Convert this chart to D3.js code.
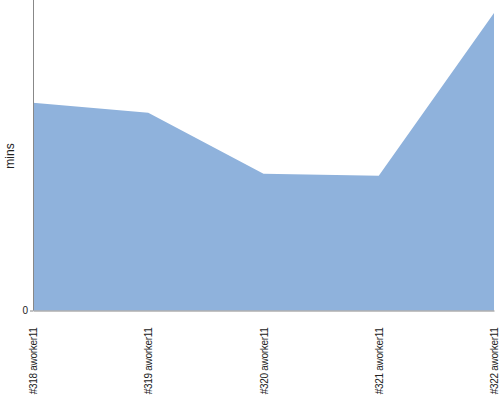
<!DOCTYPE html>
<html lang="en">
<head>
<meta charset="UTF-8">
<title>Build times</title>
<style>
body {
    margin: 0;
    background-color: #fff;
    font-family: "Liberation Sans", sans-serif;
}
</style>
</head>
<body>
<div id="plot"></div>
<script src="https://cdn.jsdelivr.net/npm/d3@7"></script>
<script>

const w = 500,
      h = 400;

const margin = {top: 0, right: 6, bottom: 89, left: 33};

// data (mins)
const builds = ["#318 aworker11", "#319 aworker11", "#320 aworker11", "#321 aworker11", "#322 aworker11"];
const mins = [20.8, 19.8, 13.7, 13.5, 29.8];
const yTicks = [0];

const svg = d3.select("#plot").append("svg")
    .attr("width", w)
    .attr("height", h);

const x = d3.scalePoint()
    .domain(builds)
    .range([margin.left, w - margin.right]);

const y = d3.scaleLinear()
    .domain([0, 31.1])
    .range([h - margin.bottom - 0.5, margin.top]);

const area = d3.area()
    .x((d, i) => x(builds[i]))
    .y0(y(0))
    .y1(d => y(d));

svg.append("path")
    .datum(mins)
    .attr("d", area)
    .attr("fill", "#8fb2dc");

// y axis
const yAxis = svg.append("g")
    .attr("transform", `translate(${margin.left},0)`)
    .call(d3.axisLeft(y).tickValues(yTicks).tickSize(3).tickPadding(2).tickFormat(d3.format("d")));
yAxis.select(".domain").attr("stroke", "#888").attr("d", `M0.5,${margin.top}V${y(0)}`);
yAxis.selectAll(".tick line").attr("stroke", "#888");
yAxis.selectAll(".tick text").attr("font-size", 10).attr("font-family", "Liberation Sans, sans-serif").attr("fill", "#222");

// x axis
const xAxis = svg.append("g")
    .attr("transform", `translate(0,${y(0)})`)
    .call(d3.axisBottom(x).tickSize(0));
xAxis.select(".domain").attr("stroke", "#888");
xAxis.selectAll(".tick text")
    .attr("font-size", 10)
    .attr("font-family", "Liberation Sans, sans-serif")
    .attr("letter-spacing", "-0.3px")
    .attr("fill", "#222")
    .attr("text-anchor", "end")
    .attr("transform", "rotate(-90)")
    .attr("x", -17)
    .attr("y", 0)
    .attr("dy", "0.35em");

// y label
svg.append("text")
    .attr("transform", `translate(14,156) rotate(-90)`)
    .attr("text-anchor", "middle")
    .attr("font-size", 12)
    .attr("fill", "#222")
    .text("mins");

</script>
</body>
</html>
